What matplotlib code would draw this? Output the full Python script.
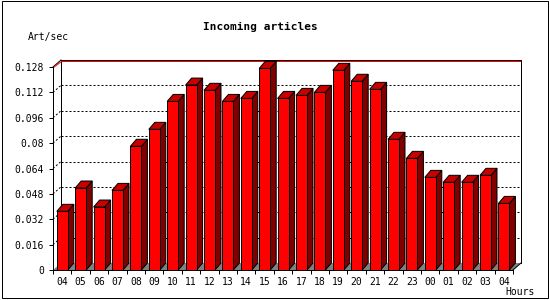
import numpy as np
import matplotlib.pyplot as plt
from matplotlib.patches import Polygon, Rectangle

plt.rcParams['font.family'] = ['DejaVu Sans Mono']

# data
hours = ['04', '05', '06', '07', '08', '09', '10', '11', '12', '13', '14', '15', '16',
         '17', '18', '19', '20', '21', '22', '23', '00', '01', '02', '03', '04']
rates = [0.0370, 0.0517, 0.0397, 0.0502, 0.0780, 0.0887, 0.1063, 0.1166, 0.1133,
         0.1063, 0.1082, 0.1271, 0.1082, 0.1101, 0.1120, 0.1259, 0.1190, 0.1139,
         0.0824, 0.0704, 0.0584, 0.0553, 0.0553, 0.0597, 0.0420]
yticks = [round(k * 0.016, 3) for k in range(9)]

W, H = 550, 300
fig = plt.figure(figsize=(5.5, 3), dpi=100)

# front plane of the plot, in pixels
left_px, right_px, top_px, bottom_px = 53, 513, 67, 270
ax = fig.add_axes([left_px / W, 1 - bottom_px / H,
                   (right_px - left_px) / W, (bottom_px - top_px) / H])
n = len(hours)
ymax = yticks[-1]
ax.set_xlim(0, n)
ax.set_ylim(0, ymax)

# data units per pixel
sx = n / (right_px - left_px)
sy = ymax / (bottom_px - top_px)
lw = 0.72

# back wall
bdx, bdy = 8 * sx, 7 * sy
ax.add_patch(Rectangle((bdx, bdy), n, ymax, fc='white', ec='none', zorder=0, clip_on=False))
for v in yticks[1:-1]:
    ax.plot([bdx, n + bdx], [v + bdy] * 2, color='black', lw=lw, ls=(0, (2, 2)),
            zorder=1, clip_on=False)
    ax.plot([0, bdx], [v, v + bdy], color='black', lw=lw, ls=(0, (2, 2)),
            zorder=1, clip_on=False)
ax.plot([bdx, bdx], [bdy, ymax + bdy], color='black', lw=lw, zorder=1, clip_on=False)
ax.plot([n + bdx, n + bdx], [bdy, ymax + bdy], color='black', lw=lw, zorder=1, clip_on=False)
ax.plot([bdx, n + bdx], [ymax + bdy] * 2, color='black', lw=lw, zorder=1, clip_on=False)
ax.plot([bdx + sx, n + bdx - sx], [ymax + bdy - 1.1 * sy] * 2, color='red', lw=lw,
        zorder=1.2, clip_on=False)
ax.plot([0, bdx], [ymax, ymax + bdy], color='black', lw=lw, zorder=1, clip_on=False)
ax.plot([1.2 * sx, bdx + sx], [ymax, ymax + bdy - 1.1 * sy], color='red', lw=lw,
        zorder=1.2, clip_on=False)

# floor
ax.add_patch(Polygon([(0, 0), (n, 0), (n + bdx, bdy), (bdx, bdy)], closed=True,
                     fc='#808080', ec='none', zorder=1.5, clip_on=False))
ax.plot([n, n + bdx], [0, bdy], color='black', lw=lw, zorder=1.6, clip_on=False)

# 3d bars
dx, dy = 6 * sx, 7 * sy
for i, v in enumerate(rates):
    x0 = i + 3.8 * sx
    x1 = x0 + 11 * sx
    ax.add_patch(Polygon([(x1, 0), (x1 + dx, dy), (x1 + dx, v + dy), (x1, v)], closed=True,
                         fc='#800000', ec='black', lw=lw, zorder=3, clip_on=False))
    ax.add_patch(Polygon([(x0, v), (x1, v), (x1 + dx, v + dy), (x0 + dx, v + dy)], closed=True,
                         fc='#c80000', ec='black', lw=lw, zorder=3, clip_on=False))
    ax.add_patch(Rectangle((x0, 0), x1 - x0, v, fc='#ff0000', ec='black', lw=lw,
                           zorder=3, clip_on=False))

# axes
for side in ['top', 'right']:
    ax.spines[side].set_visible(False)
for side in ['left', 'bottom']:
    ax.spines[side].set_linewidth(lw)
    ax.spines[side].set_zorder(4)
ax.patch.set_visible(False)

ax.set_yticks(yticks)
ax.set_yticklabels([f'{v:g}' for v in yticks])
ax.set_xticks(np.arange(n + 1))
ax.set_xticklabels([])
ax.set_xticks(np.arange(n) + 0.5, minor=True)
ax.set_xticklabels(hours, minor=True)
ax.tick_params(axis='both', which='major', length=2.9, width=lw, direction='out',
               labelsize=7, pad=3.6)
ax.tick_params(axis='x', which='minor', length=0, labelsize=7, pad=5)

fig.text(260 / W, 1 - 27 / H, 'Incoming articles', ha='center', va='center',
         fontsize=8, fontweight='bold')
fig.text(28 / W, 1 - 37 / H, 'Art/sec', ha='left', va='center', fontsize=7)
fig.text(505 / W, 1 - 292 / H, 'Hours', ha='left', va='center', fontsize=7)

# outer frame
fig.patches.append(Rectangle((2 / W, 2 / H), 545.5 / W, 297.5 / H, transform=fig.transFigure,
                             fill=False, ec='black', lw=lw))

fig.savefig('out.png', dpi=100)
